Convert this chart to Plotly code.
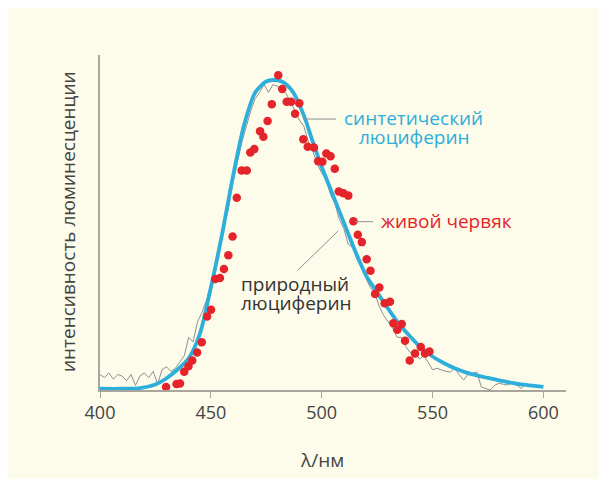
import plotly.graph_objects as go

# --- data -----------------------------------------------------------------
# synthetic luciferin (smooth fit)
synth_nm = [400, 410, 418, 425, 430, 435, 440, 445, 450, 455, 460, 465, 470, 475, 478,
            482, 487, 492, 496, 500, 505, 510, 515, 520, 525, 530, 535, 540, 545, 550,
            555, 560, 565, 570, 575, 580, 585, 590, 595, 600]
synth_val = [0.004, 0.004, 0.006, 0.018, 0.038, 0.066, 0.102, 0.18, 0.33, 0.50, 0.69, 0.855,
             0.96, 0.995, 1.0, 0.995, 0.962, 0.885, 0.80, 0.72, 0.63, 0.54, 0.45, 0.37,
             0.315, 0.262, 0.212, 0.172, 0.135, 0.108, 0.087, 0.07, 0.057, 0.047, 0.039,
             0.031, 0.024, 0.018, 0.014, 0.01]

# natural luciferin (noisy measurement), every 2 nm from 400 to 600
natural_nm = list(range(400, 601, 2))
natural_val = [0.05, 0.04, 0.055, 0.035, 0.05, 0.045, 0.03, 0.05, 0.015, 0.045,
               0.055, 0.04, 0.06, 0.02, 0.065, 0.075, 0.06, 0.07, 0.09, 0.11,
               0.17, 0.155, 0.22, 0.25, 0.29, 0.34, 0.40, 0.46, 0.53, 0.59,
               0.67, 0.74, 0.80, 0.85, 0.90, 0.94, 0.96, 0.985, 0.96, 0.985,
               0.98, 0.97, 0.955, 0.93, 0.90, 0.87, 0.85, 0.80, 0.77, 0.73,
               0.70, 0.68, 0.63, 0.60, 0.55, 0.52, 0.47, 0.46, 0.42, 0.40,
               0.36, 0.33, 0.31, 0.27, 0.24, 0.22, 0.20, 0.17, 0.17, 0.14,
               0.12, 0.13, 0.10, 0.11, 0.09, 0.065, 0.07, 0.065, 0.06, 0.058,
               0.07, 0.05, 0.032, 0.05, 0.055, 0.058, 0.01, 0.005, 0.0, 0.015,
               0.022, 0.018, 0.016, 0.027, 0.015, 0.005, 0.02, 0.012, 0.018, 0.01,
               0.015]

# living worm (dots)
worm_nm = [429.8, 432.0, 434.5, 436.1, 438.0, 439.9, 441.6, 443.8, 445.9, 448.3,
           450.1, 452.0, 454.1, 455.9, 457.9, 459.8, 461.7, 463.9, 466.2, 467.8,
           469.6, 472.2, 473.7, 475.6, 477.5, 480.4, 482.2, 484.2, 486.2, 488.0,
           489.9, 491.7, 493.7, 496.5, 498.4, 500.3, 502.1, 504.0, 505.9, 507.7,
           509.8, 512.0, 514.3, 516.3, 518.1, 520.3, 522.0, 524.1, 526.0, 528.4,
           530.8, 532.3, 534.1, 536.1, 537.6, 539.7, 542.1, 544.7, 546.6, 548.6]
worm_val = [0.010, -0.013, 0.019, 0.021, 0.059, 0.077, 0.095, 0.121, 0.154, 0.237,
            0.259, 0.358, 0.361, 0.390, 0.435, 0.495, 0.620, 0.708, 0.708, 0.766,
            0.777, 0.835, 0.817, 0.868, 0.922, 1.015, 0.971, 0.930, 0.930, 0.891,
            0.925, 0.809, 0.785, 0.782, 0.738, 0.736, 0.763, 0.754, 0.714, 0.640,
            0.635, 0.627, 0.544, 0.501, 0.477, 0.422, 0.385, 0.310, 0.331, 0.280,
            0.285, 0.215, 0.194, 0.213, 0.159, 0.095, 0.118, 0.139, 0.118, 0.124]

x_ticks = [400, 450, 500, 550, 600]

# --- styles -----------------------------------------------------------------
CREAM = "#fdfbea"
BLUE = "#2eaedb"
RED = "#e4232a"
GRAY = "#8f8f8f"
AXIS = "#a8a59c"
TEXT = "#444444"
FONT = "Open Sans"

fig = go.Figure()
fig.add_trace(go.Scatter(x=natural_nm, y=natural_val, mode="lines",
                         line=dict(color=GRAY, width=1), hoverinfo="skip"))
fig.add_trace(go.Scatter(x=synth_nm, y=synth_val, mode="lines",
                         line=dict(color=BLUE, width=3.8, shape="spline", smoothing=0.8),
                         hoverinfo="skip"))
fig.add_trace(go.Scatter(x=worm_nm, y=worm_val, mode="markers", cliponaxis=False,
                         marker=dict(color=RED, size=8.5, line=dict(width=0))))

shapes = [
    dict(type="line", xref="x", yref="y", x0=491.6, y0=0.874, x1=506.5, y1=0.874,
         line=dict(color=GRAY, width=1)),
    dict(type="line", xref="x", yref="y", x0=515.0, y0=0.543, x1=523.2, y1=0.543,
         line=dict(color=GRAY, width=1)),
    dict(type="line", xref="x", yref="y", x0=489.3, y0=0.387, x1=507.4, y1=0.513,
         line=dict(color=GRAY, width=1)),
]

# plot area occupies page pixels x 100..566, y 55..390 (figure sits 8 px in)
annotations = [
    dict(x=541.3, y=0.877, text="синтетический", showarrow=False, xanchor="center",
         yanchor="middle", font=dict(color=BLUE, size=19, family=FONT)),
    dict(x=541.9, y=0.816, text="люциферин", showarrow=False, xanchor="center",
         yanchor="middle", font=dict(color=BLUE, size=19, family=FONT)),
    dict(x=525.9, y=0.545, text="живой червяк", showarrow=False, xanchor="left",
         yanchor="middle", font=dict(color=RED, size=19, family=FONT)),
    dict(x=462.8, y=0.342, text="природный", showarrow=False, xanchor="left",
         yanchor="middle", font=dict(color="#333333", size=19, family=FONT)),
    dict(x=462.8, y=0.281, text="люциферин", showarrow=False, xanchor="left",
         yanchor="middle", font=dict(color="#333333", size=19, family=FONT)),
    dict(xref="paper", yref="paper", x=(322 - 100) / 466, y=(390 - 460) / 335,
         text="λ/нм", showarrow=False, xanchor="center", yanchor="middle",
         font=dict(color=TEXT, size=19, family=FONT)),
    dict(xref="paper", yref="paper", x=(68 - 100) / 466, y=(390 - 222) / 335,
         text="интенсивность люминесценции", textangle=-90, showarrow=False,
         xanchor="center", yanchor="middle",
         font=dict(color=TEXT, size=19, family=FONT)),
]

fig.update_layout(
    width=591, height=471,
    margin=dict(l=92, r=33, t=47, b=89),
    paper_bgcolor=CREAM, plot_bgcolor=CREAM,
    showlegend=False,
    shapes=shapes, annotations=annotations,
    font=dict(family=FONT, color=TEXT, size=18),
    xaxis=dict(range=[400, 610.2], tickvals=x_ticks, ticktext=[str(v) for v in x_ticks],
               showgrid=False, zeroline=False, showline=True, linecolor=AXIS, linewidth=1.5,
               ticks="outside", ticklen=6, tickcolor=AXIS, tickwidth=1,
               tickfont=dict(size=18, color=TEXT, family=FONT)),
    yaxis=dict(range=[0, 1.0806], showgrid=False, zeroline=False, showline=True,
               linecolor=AXIS, linewidth=1.5, showticklabels=False, ticks=""),
)

fig.write_html("out.html")
